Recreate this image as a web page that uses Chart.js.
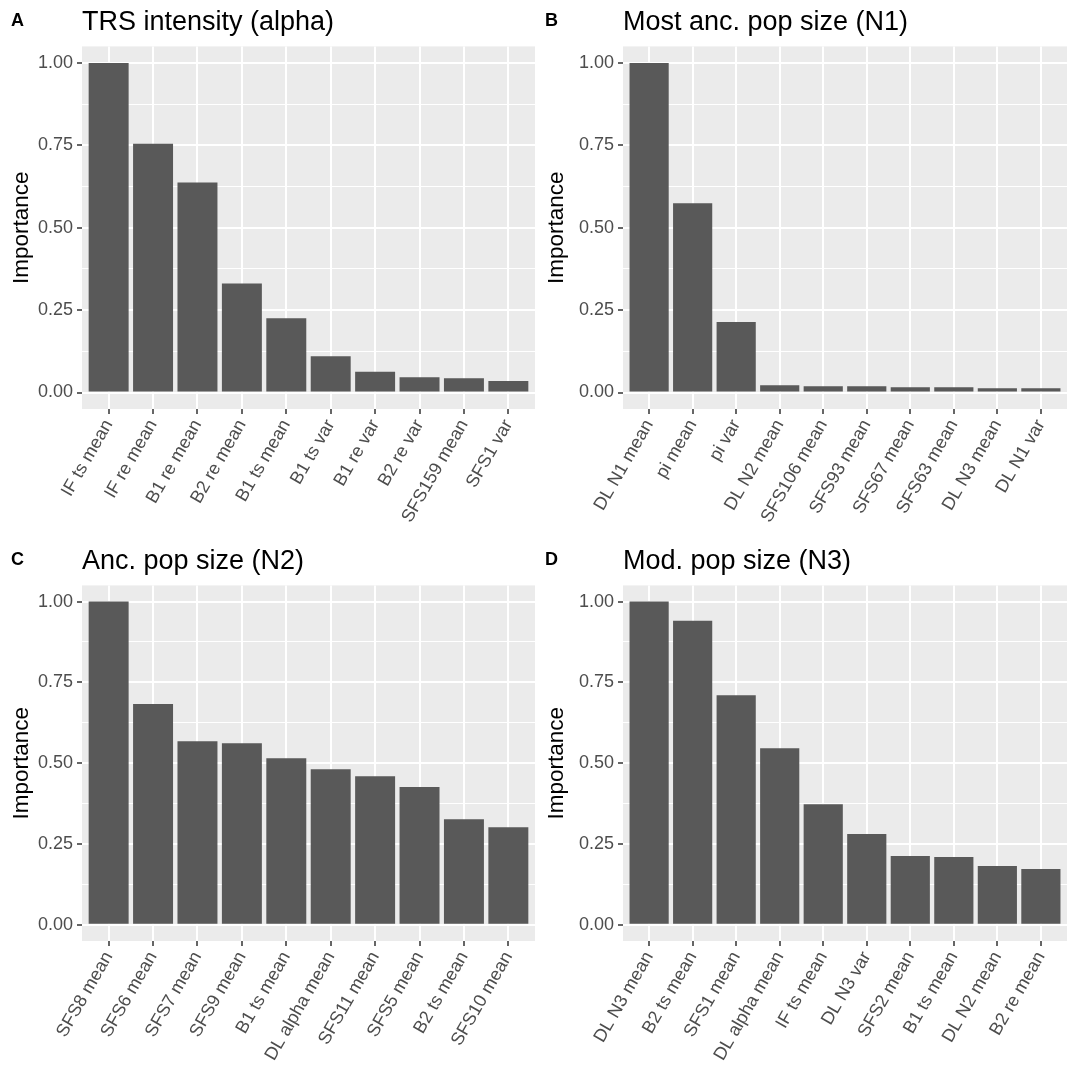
<!DOCTYPE html>
<html>
<head>
<meta charset="utf-8">
<script src="https://cdn.jsdelivr.net/npm/chart.js@4/dist/chart.umd.min.js"></script>
<style>
    html, body { margin: 0; padding: 0; background: #ffffff; }
    #wrap { position: relative; width: 1070px; height: 1070px; }
    .panel { position: absolute; width: 535px; height: 535px; }
</style>
</head>
<body>
<div id="wrap">
    <div class="panel" style="left:0;top:0"><canvas id="chartA"></canvas></div>
    <div class="panel" style="left:535px;top:0"><canvas id="chartB"></canvas></div>
    <div class="panel" style="left:0;top:535px"><canvas id="chartC"></canvas></div>
    <div class="panel" style="left:535px;top:535px"><canvas id="chartD"></canvas></div>
</div>
<script>
// Panel data
const labelsA = ['IF ts mean', 'IF re mean', 'B1 re mean', 'B2 re mean', 'B1 ts mean', 'B1 ts var', 'B1 re var', 'B2 re var', 'SFS159 mean', 'SFS1 var'];
const valuesA = [1.0, 0.755, 0.637, 0.331, 0.225, 0.110, 0.063, 0.046, 0.043, 0.035];

const labelsB = ['DL N1 mean', 'pi mean', 'pi var', 'DL N2 mean', 'SFS106 mean', 'SFS93 mean', 'SFS67 mean', 'SFS63 mean', 'DL N3 mean', 'DL N1 var'];
const valuesB = [1.0, 0.574, 0.214, 0.022, 0.019, 0.019, 0.016, 0.016, 0.013, 0.013];

const labelsC = ['SFS8 mean', 'SFS6 mean', 'SFS7 mean', 'SFS9 mean', 'B1 ts mean', 'DL alpha mean', 'SFS11 mean', 'SFS5 mean', 'B2 ts mean', 'SFS10 mean'];
const valuesC = [1.0, 0.683, 0.568, 0.562, 0.515, 0.481, 0.460, 0.426, 0.327, 0.302];

const labelsD = ['DL N3 mean', 'B2 ts mean', 'SFS1 mean', 'DL alpha mean', 'IF ts mean', 'DL N3 var', 'SFS2 mean', 'B1 ts mean', 'DL N2 mean', 'B2 re mean'];
const valuesD = [1.0, 0.941, 0.710, 0.546, 0.373, 0.281, 0.213, 0.210, 0.182, 0.173];

const yTicks = [0, 0.125, 0.25, 0.375, 0.5, 0.625, 0.75, 0.875, 1.0];

const FONT = "'Liberation Sans', Arial, Helvetica, sans-serif";
const isMajor = v => Math.abs(v * 4 - Math.round(v * 4)) < 1e-6;

// grey ggplot panel + tag letter
const ggPanel = {
    id: 'ggPanel',
    beforeDraw(chart) {
        const { ctx, chartArea } = chart;
        ctx.save();
        ctx.fillStyle = '#EBEBEB';
        ctx.fillRect(chartArea.left, chartArea.top, chartArea.right - chartArea.left, chartArea.bottom - chartArea.top);
        ctx.restore();
    },
    afterDraw(chart, args, opts) {
        const { ctx } = chart;
        ctx.save();
        ctx.font = 'bold 18px ' + FONT;
        ctx.fillStyle = '#000000';
        ctx.textBaseline = 'alphabetic';
        ctx.fillText(opts.tag, opts.tagX, opts.tagY);
        ctx.restore();
    }
};

function makeChart(id, tag, title, labels, values, cfg) {
    const ctx = document.getElementById(id).getContext('2d');
    new Chart(ctx, {
        type: 'bar',
        data: {
            datasets: [{
                data: values.map((v, i) => ({ x: i, y: v })),
                backgroundColor: '#595959',
                barPercentage: 0.9,
                categoryPercentage: 1.0
            }]
        },
        options: {
            responsive: false,
            animation: false,
            layout: { padding: { left: 0, right: cfg.padRight, top: 0, bottom: 0 } },
            plugins: {
                legend: { display: false },
                tooltip: { enabled: false },
                title: {
                    display: true,
                    text: title,
                    align: 'start',
                    fullSize: false,
                    color: '#000000',
                    font: { family: FONT, size: 27, weight: 'normal' },
                    padding: { top: cfg.titleTop, bottom: cfg.titleBottom }
                },
                ggPanel: { tag: tag, tagX: cfg.tagX, tagY: cfg.tagY }
            },
            scales: {
                x: {
                    type: 'linear',
                    min: -0.6,
                    max: 9.6,
                    offset: false,
                    afterBuildTicks: axis => { axis.ticks = labels.map((_, i) => ({ value: i })); },
                    afterFit: axis => { axis.height = cfg.xHeight; axis.paddingLeft = 0; axis.paddingRight = 0; },
                    border: { display: false },
                    grid: {
                        offset: false,
                        color: '#FFFFFF',
                        lineWidth: 2,
                        drawTicks: true,
                        tickLength: 5,
                        tickColor: '#333333',
                        tickWidth: 1.5
                    },
                    ticks: {
                        autoSkip: false,
                        minRotation: 60,
                        maxRotation: 60,
                        padding: 2,
                        color: '#4D4D4D',
                        font: { family: FONT, size: 18 },
                        callback: v => labels[v]
                    }
                },
                y: {
                    min: -0.05,
                    max: 1.05,
                    afterBuildTicks: axis => { axis.ticks = yTicks.map(v => ({ value: v })); },
                    afterFit: axis => { axis.width = cfg.yWidth; },
                    border: { display: false },
                    grid: {
                        color: '#FFFFFF',
                        lineWidth: c => (c.tick && isMajor(c.tick.value)) ? 2 : 1,
                        drawTicks: true,
                        tickLength: 5,
                        tickColor: c => (c.tick && isMajor(c.tick.value)) ? '#333333' : 'rgba(0,0,0,0)',
                        tickWidth: 1.5
                    },
                    ticks: {
                        padding: 4,
                        color: '#4D4D4D',
                        font: { family: FONT, size: 18 },
                        callback: v => isMajor(v) ? v.toFixed(2) : ''
                    },
                    title: {
                        display: true,
                        text: 'Importance',
                        color: '#000000',
                        font: { family: FONT, size: 22.5 },
                        padding: { top: 8, bottom: 0 }
                    }
                }
            }
        },
        plugins: [ggPanel]
    });
}

function sizeCanvases() {
    ['chartA', 'chartB', 'chartC', 'chartD'].forEach(id => {
        const c = document.getElementById(id);
        c.width = 535;
        c.height = 535;
        c.style.width = '535px';
        c.style.height = '535px';
    });
}

sizeCanvases();
makeChart('chartA', 'A', 'TRS intensity (alpha)', labelsA, valuesA,
    { yWidth: 82, xHeight: 126, padRight: 0, titleTop: 6, titleBottom: 8, tagX: 11, tagY: 26 });
makeChart('chartB', 'B', 'Most anc. pop size (N1)', labelsB, valuesB,
    { yWidth: 88, xHeight: 126, padRight: 3, titleTop: 6, titleBottom: 8, tagX: 10, tagY: 26 });
makeChart('chartC', 'C', 'Anc. pop size (N2)', labelsC, valuesC,
    { yWidth: 82, xHeight: 129, padRight: 0, titleTop: 10, titleBottom: 8, tagX: 11, tagY: 30 });
makeChart('chartD', 'D', 'Mod. pop size (N3)', labelsD, valuesD,
    { yWidth: 88, xHeight: 129, padRight: 3, titleTop: 10, titleBottom: 8, tagX: 10, tagY: 30 });
</script>
</body>
</html>
